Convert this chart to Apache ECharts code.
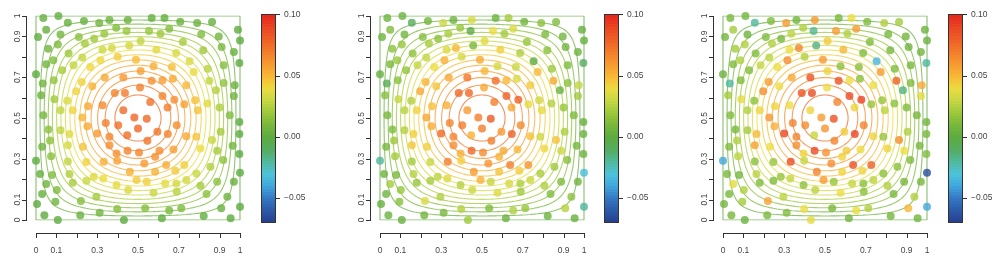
<!DOCTYPE html>
<html>
<head>
<meta charset="utf-8">
<script src="https://cdn.jsdelivr.net/npm/echarts@6/dist/echarts.min.js"></script>
<style>
  html, body { margin: 0; padding: 0; background: #fff; }
  #chart { width: 1006px; height: 266px; }
</style>
</head>
<body>
<div id="chart"></div>
<script>
// colour scale shared by the three panels
const scaleMin = -0.07;
const scaleMax = 0.10;
const paletteStops = ['#263f8f', '#2c5aa8', '#3479c4', '#42a6dc', '#4cc4d8', '#4fb89b', '#55ad60', '#5dab3f', '#78b83c',
  '#9cc83b', '#c4d640', '#ecdc3f', '#f8b836', '#f79a30', '#f27d2b', '#ee6025', '#ea4420', '#e5281b'];
const colorbarTicks = [-0.05, 0, 0.05, 0.10];

// axes
const axisTicks = [0, 0.1, 0.2, 0.3, 0.4, 0.5, 0.6, 0.7, 0.8, 0.9, 1];
const axisLabels = [0, 0.1, 0.3, 0.5, 0.7, 0.9, 1];

// contour levels of the underlying field (outermost = boundary)
const fieldPeak = 0.08;
const contourLevels = [0, 0.005, 0.01, 0.015, 0.02, 0.025, 0.03, 0.035, 0.04, 0.045, 0.05, 0.055, 0.06, 0.065, 0.07, 0.075];

// observation sites (same in every panel)
const sites = [
  [0.036,0.99],[0.11,1.0],[0.156,0.967],[0.235,0.976],[0.31,0.966],[0.36,0.98],[0.45,0.98],[0.567,0.99],[0.63,0.99],[0.707,0.972],[0.79,0.966],[0.863,0.97],
  [0.01,0.897],[0.05,0.933],[0.12,0.909],[0.21,0.897],[0.285,0.889],[0.335,0.913],[0.393,0.943],[0.444,0.927],[0.554,0.927],[0.653,0.938],[0.61,0.913],[0.513,0.878],[0.72,0.873],[0.81,0.91],[0.896,0.9],[0.99,0.933],[1.0,0.88],
  [0.06,0.84],[0.107,0.86],[0.16,0.816],[0.24,0.865],[0.326,0.835],[0.372,0.843],[0.40,0.80],[0.457,0.855],[0.49,0.786],[0.59,0.835],[0.687,0.819],[0.82,0.832],[0.91,0.848],[0.97,0.824],
  [0.0,0.714],[0.05,0.763],[0.085,0.783],[0.128,0.734],[0.184,0.758],[0.227,0.796],[0.316,0.783],[0.266,0.75],[0.513,0.731],[0.576,0.754],[0.666,0.75],[0.753,0.778],[0.773,0.726],[0.842,0.742],[0.92,0.759],[0.997,0.77],
  [0.033,0.669],[0.087,0.685],[0.025,0.612],[0.09,0.592],[0.153,0.584],[0.197,0.631],[0.224,0.677],[0.276,0.656],[0.337,0.698],[0.428,0.698],[0.51,0.649],[0.567,0.682],[0.62,0.685],[0.671,0.692],[0.737,0.661],[0.85,0.682],[0.882,0.636],[0.92,0.672],[0.974,0.661],[0.97,0.608],[0.386,0.623],[0.436,0.623],[0.56,0.579],[0.62,0.608],[0.678,0.59],[0.78,0.587],
  [0.036,0.514],[0.061,0.444],[0.12,0.538],[0.12,0.44],[0.18,0.538],[0.227,0.502],[0.255,0.558],[0.326,0.563],[0.342,0.476],[0.428,0.538],[0.482,0.502],[0.543,0.496],[0.645,0.551],[0.69,0.465],[0.727,0.568],[0.793,0.538],[0.84,0.571],[0.90,0.551],[0.95,0.514],[0.997,0.481],
  [0.069,0.39],[0.164,0.421],[0.252,0.46],[0.30,0.424],[0.36,0.408],[0.403,0.465],[0.447,0.416],[0.50,0.449],[0.546,0.388],[0.595,0.432],[0.646,0.421],[0.737,0.411],[0.786,0.408],[0.863,0.392],[0.905,0.432],[0.997,0.421],
  [0.0,0.29],[0.03,0.359],[0.074,0.313],[0.156,0.367],[0.23,0.359],[0.247,0.284],[0.156,0.287],[0.36,0.367],[0.395,0.326],[0.449,0.339],[0.505,0.331],[0.584,0.31],[0.605,0.339],[0.674,0.346],[0.806,0.351],[0.888,0.339],[0.964,0.364],[0.997,0.323],[0.918,0.294],
  [0.332,0.285],[0.398,0.29],[0.531,0.277],[0.584,0.237],[0.638,0.269],[0.683,0.241],[0.727,0.269],[0.786,0.228],[0.855,0.261],[1.0,0.232],[0.02,0.225],[0.079,0.22],[0.05,0.176],[0.46,0.237],[0.493,0.196],[0.543,0.188],[0.164,0.225],[0.283,0.212],[0.33,0.204],
  [0.03,0.127],[0.102,0.147],[0.18,0.183],[0.247,0.192],[0.395,0.171],[0.452,0.147],[0.576,0.134],[0.633,0.179],[0.688,0.179],[0.737,0.196],[0.806,0.168],[0.836,0.127],[0.888,0.188],[0.938,0.114],[0.97,0.188],[0.22,0.093],[0.296,0.114],[0.69,0.139],
  [0.005,0.078],[0.041,0.023],[0.107,0.0],[0.095,0.09],[0.217,0.023],[0.312,0.036],[0.398,0.054],[0.431,0.0],[0.535,0.057],[0.617,0.008],[0.653,0.046],[0.712,0.057],[0.822,0.02],[0.908,0.057],[0.954,0.008],[1.0,0.065]
];

// values at the sites, left / middle / right panel
const valuesLeft = [
  0.003,0.002,0.004,0.004,0.007,0.005,0.005,0.003,0.003,0.005,0.005,0.003,
  0.001,0.003,0.008,0.015,0.021,0.018,0.013,0.018,0.018,0.013,0.02,0.029,0.023,0.012,0.008,0.0,0.0,
  0.007,0.011,0.02,0.022,0.033,0.034,0.044,0.034,0.049,0.037,0.035,0.021,0.01,0.004,
  0.0,0.008,0.012,0.023,0.029,0.03,0.041,0.041,0.058,0.053,0.048,0.035,0.039,0.027,0.013,0.0,
  0.007,0.017,0.006,0.021,0.035,0.042,0.043,0.052,0.055,0.061,0.069,0.064,0.06,0.055,0.05,0.03,0.026,0.017,0.005,0.007,0.068,0.071,0.074,0.068,0.064,0.048,
  0.009,0.015,0.029,0.029,0.042,0.051,0.055,0.066,0.069,0.076,0.078,0.077,0.07,0.065,0.058,0.047,0.037,0.024,0.012,0.0,
  0.016,0.037,0.055,0.061,0.067,0.074,0.075,0.078,0.073,0.073,0.068,0.055,0.047,0.031,0.022,0.0,
  0.0,0.007,0.015,0.034,0.047,0.043,0.029,0.065,0.064,0.068,0.067,0.063,0.065,0.059,0.04,0.023,0.008,0.0,0.016,
  0.053,0.058,0.06,0.052,0.054,0.045,0.044,0.031,0.025,0.0,0.003,0.012,0.006,0.053,0.045,0.043,0.025,0.037,0.04,
  0.003,0.011,0.023,0.031,0.038,0.035,0.031,0.038,0.034,0.034,0.022,0.015,0.015,0.005,0.004,0.014,0.022,0.027,
  0.0,0.0,0.0,0.006,0.004,0.007,0.013,0.0,0.014,0.001,0.01,0.011,0.002,0.004,0.0,0.0
];
const valuesMiddle = [
  0.006,0.005,-0.008,0.008,0.032,0.006,0.035,0.006,0.022,0.008,0.015,0.012,
  0.005,0.012,0.007,0.014,0.015,0.023,0.019,0.0,0.04,0.036,0.022,0.037,0.018,0.011,0.008,0.003,0.003,
  0.015,0.018,0.016,0.023,0.036,0.05,0.034,0.01,0.055,0.044,0.024,0.015,0.008,0.006,
  0.003,0.01,0.018,0.017,0.03,0.03,0.053,0.04,0.05,0.034,0.031,0.0,0.05,0.02,0.012,-0.01,
  -0.006,0.015,0.014,0.03,0.025,0.055,0.052,0.046,0.055,0.073,0.055,0.075,0.05,0.035,0.045,0.055,0.005,0.015,0.03,0.022,0.078,0.078,0.07,0.08,0.08,0.033,
  0.01,0.012,0.027,0.026,0.042,0.056,0.048,0.053,0.068,0.06,0.07,0.082,0.056,0.066,0.038,0.038,0.026,0.018,0.011,0.004,
  0.02,0.044,0.054,0.077,0.068,0.07,0.052,0.07,0.07,0.06,0.08,0.048,0.032,0.048,0.024,0.005,
  -0.02,0.01,0.022,0.046,0.044,0.03,0.022,0.065,0.053,0.078,0.065,0.052,0.055,0.05,0.041,0.032,0.009,0.006,0.014,
  0.07,0.044,0.062,0.047,0.07,0.044,0.062,0.023,0.02,-0.032,0.006,0.01,0.022,0.06,0.052,0.03,0.026,0.028,0.035,
  0.006,0.018,0.018,0.022,0.026,0.032,0.036,0.034,0.024,0.031,0.024,0.012,0.012,0.015,0.007,0.036,0.025,0.021,
  0.004,0.005,0.003,0.014,0.007,0.01,0.026,0.02,0.012,0.005,0.025,0.018,0.005,0.027,0.004,-0.02
];
const valuesRight = [
  0.01,0.008,-0.02,0.012,0.06,0.008,0.06,0.01,0.04,0.012,0.025,0.022,
  0.008,0.022,0.006,0.012,0.01,0.028,0.025,-0.018,0.06,0.06,0.025,0.045,0.012,0.01,0.008,0.006,0.005,
  0.022,0.025,0.012,0.025,0.04,0.068,0.025,-0.015,0.06,0.05,0.012,0.01,0.006,0.008,
  0.005,0.012,0.025,0.012,0.03,0.028,0.065,0.04,0.042,0.015,0.015,-0.035,0.06,0.012,0.01,-0.02,
  -0.02,0.012,0.022,0.038,0.015,0.065,0.06,0.04,0.055,0.085,0.04,0.085,0.04,0.015,0.04,0.08,-0.015,0.012,0.055,0.038,0.085,0.088,0.068,0.088,0.09,0.018,
  0.012,0.01,0.025,0.022,0.042,0.062,0.042,0.04,0.068,0.042,0.06,0.085,0.042,0.068,0.018,0.028,0.015,0.012,0.01,0.008,
  0.025,0.05,0.052,0.09,0.068,0.065,0.03,0.062,0.068,0.045,0.09,0.042,0.018,0.065,0.025,0.01,
  -0.04,0.012,0.028,0.058,0.04,0.018,0.015,0.065,0.042,0.088,0.062,0.042,0.045,0.04,0.042,0.04,0.01,0.012,0.012,
  0.088,0.03,0.065,0.042,0.085,0.042,0.08,0.015,0.015,-0.065,0.01,0.008,0.038,0.068,0.06,0.018,0.028,0.018,0.03,
  0.01,0.025,0.012,0.012,0.015,0.028,0.04,0.03,0.015,0.028,0.025,0.01,0.01,0.025,0.01,0.058,0.028,0.015,
  0.008,0.01,0.005,0.022,0.01,0.012,0.04,0.038,0.01,0.008,0.04,0.025,0.008,0.05,0.008,-0.04
];

const panelValues = [valuesLeft, valuesMiddle, valuesRight];

// layout (pixels)
const panelLeft = [36, 380, 723];
const barLeft = [262, 605, 949];
const xAxisGap = 13, yAxisGap = 9, tickLen = 4;
const inkColor = '#333';
const font = 'Liberation Sans, Arial, sans-serif';

function hexRgb(h) {
  return [parseInt(h.slice(1, 3), 16), parseInt(h.slice(3, 5), 16), parseInt(h.slice(5, 7), 16)];
}
const stopsRgb = paletteStops.map(hexRgb);
function colorOf(v) {
  let t = (v - scaleMin) / (scaleMax - scaleMin);
  t = Math.max(0, Math.min(1, t)) * (stopsRgb.length - 1);
  const i = Math.min(Math.floor(t), stopsRgb.length - 2);
  const f = t - i;
  const a = stopsRgb[i], b = stopsRgb[i + 1];
  return 'rgb(' + a.map((c, k) => Math.round(c + (b[k] - c) * f)).join(',') + ')';
}

// closed level curve of the field for one contour level
function contourPath(level) {
  if (level <= 0) return [[0, 0], [1, 0], [1, 1], [0, 1], [0, 0]];
  const r = level / fieldPeak;
  const x0 = Math.asin(r) / Math.PI;
  const n = 140;
  const lower = [], upper = [];
  for (let i = 0; i <= n; i++) {
    const x = x0 + (1 - 2 * x0) * (1 - Math.cos(Math.PI * i / n)) / 2;
    const q = Math.min(1, r / Math.sin(Math.PI * x));
    const y = Math.asin(q) / Math.PI;
    lower.push([x, y]);
    upper.push([x, 1 - y]);
  }
  return lower.concat(upper.reverse(), [lower[0]]);
}

function inkRect(x, y, w, h) {
  return { type: 'rect', shape: { x: x, y: y, width: w, height: h }, style: { fill: inkColor } };
}

// R-style detached axes (line + ticks) drawn through the panel's scales
function renderAxes(params, api) {
  const o = api.coord([0, 0]), e = api.coord([1, 1]);
  const yLineX = Math.round(o[0]) - yAxisGap;
  const xLineY = Math.round(o[1]) + xAxisGap;
  const parts = [
    inkRect(yLineX - 1, Math.round(e[1]), 1, Math.round(o[1]) - Math.round(e[1]) + 1),
    inkRect(Math.round(o[0]), xLineY, Math.round(e[0]) - Math.round(o[0]) + 1, 1)
  ];
  axisTicks.forEach(t => {
    const px = Math.round(api.coord([t, 0])[0]);
    const py = Math.round(api.coord([0, t])[1]);
    parts.push(inkRect(px, xLineY, 1, tickLen + 1));
    parts.push(inkRect(yLineX - 1 - tickLen, py, tickLen + 1, 1));
  });
  return { type: 'group', children: parts };
}

// colour bar cells
const barSteps = [];
for (let v = scaleMin; v < scaleMax - 1e-9; v += 0.0025) barSteps.push([v, Math.min(scaleMax, v + 0.0025)]);

const grids = [], xAxes = [], yAxes = [], series = [];
const labelStyle = { fontSize: 8.5, color: '#444', fontFamily: font };
const labelFormatter = v => axisLabels.indexOf(v) >= 0 ? String(v) : '';

for (let p = 0; p < 3; p++) {
  grids.push({ left: panelLeft[p], top: 16, width: 204, height: 204 });
  xAxes.push({
    gridIndex: p, type: 'value', min: 0, max: 1, interval: 0.1, position: 'bottom', offset: xAxisGap,
    axisLine: { show: false }, axisTick: { show: false }, splitLine: { show: false },
    axisLabel: Object.assign({ margin: 13, formatter: labelFormatter }, labelStyle)
  });
  yAxes.push({
    gridIndex: p, type: 'value', min: 0, max: 1, interval: 0.1, position: 'left', offset: yAxisGap,
    axisLine: { show: false }, axisTick: { show: false }, splitLine: { show: false },
    axisLabel: Object.assign({ margin: 5, rotate: 90, formatter: labelFormatter }, labelStyle)
  });

  contourLevels.forEach(lv => {
    series.push({
      type: 'line', xAxisIndex: p, yAxisIndex: p, data: contourPath(lv),
      showSymbol: false, silent: true, smooth: false, z: 1,
      lineStyle: { color: colorOf(lv), width: 1.1, opacity: 0.75 }
    });
  });

  const vals = panelValues[p];
  series.push({
    type: 'scatter', xAxisIndex: p, yAxisIndex: p, z: 5,
    symbolSize: 8,
    data: sites.map((s, i) => ({ value: [s[0], s[1], vals[i]], itemStyle: { color: colorOf(vals[i]) } }))
  });

  series.push({
    type: 'custom', xAxisIndex: p, yAxisIndex: p, silent: true, clip: false, z: 6,
    data: [[0, 0]], renderItem: renderAxes
  });
}

for (let p = 0; p < 3; p++) {
  const g = 3 + p;
  grids.push({ left: barLeft[p], top: 15, width: 13, height: 207 });
  xAxes.push({ gridIndex: g, type: 'value', min: 0, max: 1, show: false });
  yAxes.push({
    gridIndex: g, type: 'value', min: scaleMin, max: scaleMax, position: 'right',
    axisLine: { show: false },
    axisTick: { show: false },
    axisLabel: Object.assign({
      margin: 9, customValues: colorbarTicks,
      formatter: v => (v < 0 ? '\u2212' : '') + Math.abs(v).toFixed(2)
    }, labelStyle),
    splitLine: { show: false }
  });
  series.push({
    type: 'custom', xAxisIndex: g, yAxisIndex: g, silent: true, z: 3,
    data: barSteps,
    renderItem: (params, api) => {
      const lo = api.value(0), hi = api.value(1);
      const a = api.coord([0, lo]), b = api.coord([1, hi]);
      return {
        type: 'rect',
        shape: { x: a[0], y: b[1], width: b[0] - a[0], height: a[1] - b[1] + 0.6 },
        style: { fill: colorOf((lo + hi) / 2) }
      };
    }
  });
  // frame and tick marks of the colour bar
  series.push({
    type: 'custom', xAxisIndex: g, yAxisIndex: g, silent: true, clip: false, z: 4,
    data: [[scaleMin, scaleMax]],
    renderItem: (params, api) => {
      const a = api.coord([0, api.value(0)]), b = api.coord([1, api.value(1)]);
      const x0 = Math.round(a[0]), x1 = Math.round(b[0]), y0 = Math.round(b[1]), y1 = Math.round(a[1]);
      const children = [
        inkRect(x0 - 1, y0 - 1, x1 - x0 + 2, 1),
        inkRect(x0 - 1, y1, x1 - x0 + 2, 1),
        inkRect(x0 - 1, y0 - 1, 1, y1 - y0 + 2),
        inkRect(x1, y0 - 1, 1, y1 - y0 + 2)
      ];
      colorbarTicks.forEach(t => {
        const c = api.coord([1, t]);
        children.push(inkRect(x1, Math.round(c[1]) - (t === scaleMax ? 1 : 0), tickLen + 1, 1));
      });
      return { type: 'group', children: children };
    }
  });
}

const chart = echarts.init(document.getElementById('chart'), null, { renderer: 'canvas' });
chart.setOption({
  animation: false,
  backgroundColor: '#fff',
  grid: grids,
  xAxis: xAxes,
  yAxis: yAxes,
  series: series
});
</script>
</body>
</html>
